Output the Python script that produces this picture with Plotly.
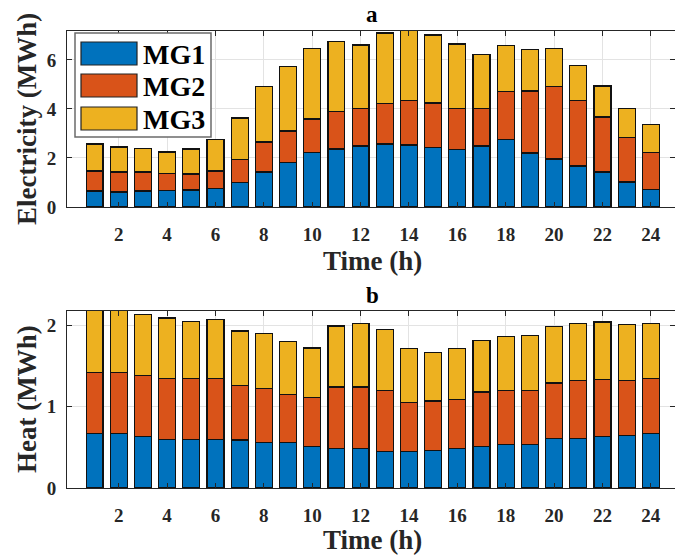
import plotly.graph_objects as go

hours = list(range(1, 25))
series_names = ["MG1", "MG2", "MG3"]
colors = ["#0072BD", "#D95319", "#EDB120"]

elec_mg1 = [0.65, 0.61, 0.65, 0.68, 0.69, 0.75, 0.99, 1.43, 1.82, 2.22, 2.37, 2.49,
            2.57, 2.53, 2.42, 2.35, 2.49, 2.75, 2.20, 1.96, 1.67, 1.43, 1.02, 0.73]
elec_mg2 = [0.82, 0.82, 0.78, 0.68, 0.66, 0.72, 0.94, 1.22, 1.28, 1.37, 1.51, 1.52,
            1.65, 1.81, 1.82, 1.66, 1.52, 1.96, 2.53, 2.94, 2.67, 2.24, 1.81, 1.49]
elec_mg3 = [1.10, 1.02, 0.95, 0.88, 1.02, 1.28, 1.70, 2.28, 2.64, 2.89, 2.87, 2.60,
            2.88, 2.96, 2.78, 2.64, 2.22, 1.88, 1.69, 1.55, 1.42, 1.27, 1.20, 1.14]

heat_mg1 = [0.673, 0.673, 0.63, 0.60, 0.60, 0.60, 0.59, 0.555, 0.555, 0.51, 0.49, 0.49,
            0.45, 0.45, 0.465, 0.49, 0.51, 0.53, 0.53, 0.61, 0.61, 0.63, 0.65, 0.673]
heat_mg2 = [0.75, 0.75, 0.75, 0.75, 0.75, 0.75, 0.67, 0.665, 0.595, 0.60, 0.75, 0.75,
            0.75, 0.60, 0.605, 0.60, 0.67, 0.67, 0.67, 0.68, 0.71, 0.70, 0.67, 0.677]
heat_mg3 = [0.78, 0.78, 0.75, 0.74, 0.70, 0.72, 0.67, 0.68, 0.65, 0.61, 0.75, 0.78,
            0.75, 0.66, 0.60, 0.62, 0.63, 0.66, 0.67, 0.69, 0.70, 0.71, 0.69, 0.67]

x_ticks = list(range(2, 25, 2))
elec_ticks = [0, 2, 4, 6]
heat_ticks = [0, 1, 2]

W, H = 675, 557
FONT = "Liberation Serif, Times New Roman, serif"
TXT = "#262626"

fig = go.Figure()
for name, col, ev, hv in zip(series_names, colors, [elec_mg1, elec_mg2, elec_mg3],
                             [heat_mg1, heat_mg2, heat_mg3]):
    fig.add_trace(go.Bar(x=hours, y=ev, name=name, marker=dict(color=col, line=dict(color="#111111", width=1.2)),
                         width=0.7, xaxis="x", yaxis="y", showlegend=False))
    fig.add_trace(go.Bar(x=hours, y=hv, name=name, marker=dict(color=col, line=dict(color="#111111", width=1.2)),
                         width=0.7, xaxis="x2", yaxis="y2", showlegend=False))

def px_x(p):
    return p / W

def px_y(p):
    return 1 - p / H

x_dom = [px_x(67), 1.0]
xcommon = dict(range=[-0.14, 25.0], tickvals=x_ticks, ticks="inside", ticklen=5, tickcolor=TXT,
               showline=True, linecolor=TXT, linewidth=1, mirror="ticks", showgrid=True,
               gridcolor="#e3e3e3", gridwidth=1, zeroline=False,
               tickfont=dict(family=FONT, size=19, color=TXT, weight="bold"), ticklabelstandoff=10)
ycommon = dict(ticks="inside", ticklen=5, tickcolor=TXT, showline=True, linecolor=TXT, linewidth=1,
               mirror="ticks", showgrid=True, gridcolor="#e3e3e3", gridwidth=1, zeroline=False,
               tickfont=dict(family=FONT, size=19, color=TXT, weight="bold"), ticklabelstandoff=6)

fig.update_layout(
    width=W, height=H, margin=dict(l=0, r=0, t=0, b=0, autoexpand=False),
    paper_bgcolor="white", plot_bgcolor="white", barmode="stack", bargap=0.3,
    xaxis=dict(domain=x_dom, anchor="y", **xcommon),
    yaxis=dict(domain=[px_y(207), px_y(31)], anchor="x", range=[0, 7.18], tickvals=elec_ticks, **ycommon),
    xaxis2=dict(domain=x_dom, anchor="y2", **xcommon),
    yaxis2=dict(domain=[px_y(488), px_y(311)], anchor="x2", range=[0, 2.175], tickvals=heat_ticks, **ycommon),
)

def ann(text, x, y, size, color=TXT, angle=0, xanchor="center"):
    return dict(text=text, x=px_x(x), y=px_y(y), xref="paper", yref="paper", showarrow=False,
                xanchor=xanchor, yanchor="middle", textangle=angle,
                font=dict(family=FONT, size=size, color=color, weight="bold"))

annots = [
    ann("a", 372, 15, 23, "black"),
    ann("b", 372, 295, 23, "black"),
    ann("Time (h)", 372, 261, 27),
    ann("Time (h)", 372, 540, 27),
    ann("Electricity (MWh)", 27, 119, 27, angle=-90),
    ann("Heat (MWh)", 27, 399, 27, angle=-90),
]

# custom legend (MATLAB-style large swatches)
shapes = [dict(type="rect", xref="paper", yref="paper", x0=px_x(75), x1=px_x(211), y0=px_y(137), y1=px_y(33),
               fillcolor="white", line=dict(color="#6b6b6b", width=1.5), layer="above")]
sw_tops = [42, 74, 107]
for name, col, t in zip(series_names, colors, sw_tops):
    shapes.append(dict(type="rect", xref="paper", yref="paper", x0=px_x(81), x1=px_x(137),
                       y0=px_y(t + 23), y1=px_y(t), fillcolor=col, line=dict(color="#222222", width=1.2),
                       layer="above"))
    annots.append(ann(name, 141, t + 12, 28, "black", xanchor="left"))

fig.update_layout(annotations=annots, shapes=shapes)
fig.write_html("out.html")
